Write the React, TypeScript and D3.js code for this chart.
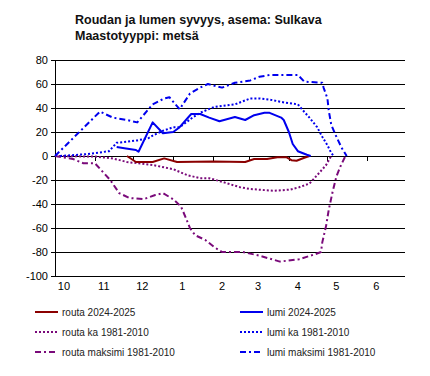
import React from "react";
import * as d3 from "d3";

const monthLabels = ["10", "11", "12", "1", "2", "3", "4", "5", "6"];
const yTicks = [80, 60, 40, 20, 0, -20, -40, -60, -80, -100];

const routa2425: [string, number][] = [
  ["2024-11-26", 0], ["2024-12-03", -5], ["2024-12-16", -5], ["2024-12-25", -2],
  ["2025-01-04", -5], ["2025-02-01", -4.5], ["2025-02-26", -5], ["2025-03-05", -2.5],
  ["2025-03-15", -2.5], ["2025-03-23", -1], ["2025-03-30", -1], ["2025-04-03", -3.5],
  ["2025-04-07", -4], ["2025-04-13", -1.5], ["2025-04-17", 0],
];
const routaKa: [string, number][] = [
  ["2024-10-01", 0], ["2024-11-01", -0.5], ["2024-11-15", -2], ["2024-11-26", -5],
  ["2024-12-16", -7.5], ["2025-01-01", -11], ["2025-01-12", -16], ["2025-01-22", -18.5],
  ["2025-01-29", -18.5], ["2025-02-08", -21.5], ["2025-02-22", -26], ["2025-03-02", -27.5],
  ["2025-03-20", -29], ["2025-04-02", -28], ["2025-04-09", -26], ["2025-04-17", -23],
  ["2025-04-23", -16], ["2025-04-30", -7.5], ["2025-05-04", 0],
];
const routaMax: [string, number][] = [
  ["2024-10-01", 0], ["2024-10-15", -2.5], ["2024-10-23", -6], ["2024-11-01", -6],
  ["2024-11-13", -20], ["2024-11-20", -31], ["2024-11-28", -35], ["2024-12-09", -36],
  ["2024-12-18", -32.5], ["2024-12-24", -31], ["2025-01-01", -36], ["2025-01-07", -42],
  ["2025-01-11", -52], ["2025-01-14", -60], ["2025-01-18", -66], ["2025-01-26", -70],
  ["2025-02-02", -76], ["2025-02-08", -80], ["2025-02-24", -80], ["2025-03-09", -83],
  ["2025-03-25", -88], ["2025-04-09", -86], ["2025-04-21", -82], ["2025-04-26", -80],
  ["2025-04-27", -72], ["2025-04-30", -58], ["2025-05-02", -45], ["2025-05-05", -30],
  ["2025-05-08", -17], ["2025-05-11", -9], ["2025-05-15", 0],
];
const lumi2425: [string, number][] = [
  ["2024-11-18", 7.5], ["2024-11-24", 6.5], ["2024-12-03", 5], ["2024-12-05", 3.5],
  ["2024-12-16", 28], ["2024-12-24", 19], ["2025-01-01", 20], ["2025-01-06", 24],
  ["2025-01-15", 35], ["2025-01-22", 35], ["2025-01-29", 32], ["2025-02-06", 29],
  ["2025-02-18", 32.5], ["2025-02-26", 30], ["2025-03-05", 34], ["2025-03-13", 36],
  ["2025-03-17", 36], ["2025-03-26", 32], ["2025-03-28", 30], ["2025-04-01", 20],
  ["2025-04-04", 10], ["2025-04-08", 4], ["2025-04-15", 1], ["2025-04-18", 0],
];
const lumiKa: [string, number][] = [
  ["2024-10-05", 0], ["2024-10-25", 1.5], ["2024-11-05", 3], ["2024-11-12", 4],
  ["2024-11-18", 11], ["2024-12-04", 13], ["2024-12-13", 15], ["2024-12-16", 17],
  ["2024-12-24", 21], ["2025-01-01", 24], ["2025-01-06", 24], ["2025-01-16", 32],
  ["2025-01-22", 36], ["2025-02-02", 41], ["2025-02-18", 43], ["2025-03-02", 48],
  ["2025-03-09", 48], ["2025-03-17", 47], ["2025-03-29", 44.5], ["2025-04-08", 43],
  ["2025-04-12", 38], ["2025-04-17", 32], ["2025-04-23", 24], ["2025-04-27", 16],
  ["2025-05-01", 9], ["2025-05-04", 2.5], ["2025-05-06", 0],
];
const lumiMax: [string, number][] = [
  ["2024-10-01", 0], ["2024-11-05", 37], ["2024-11-15", 32], ["2024-11-26", 30],
  ["2024-12-04", 28], ["2024-12-16", 43], ["2024-12-25", 48], ["2024-12-29", 49],
  ["2025-01-06", 39], ["2025-01-14", 52], ["2025-01-22", 57], ["2025-01-28", 60],
  ["2025-02-08", 57], ["2025-02-18", 61], ["2025-03-02", 63], ["2025-03-09", 66],
  ["2025-03-17", 67.5], ["2025-04-08", 67.5], ["2025-04-13", 62], ["2025-04-27", 61],
  ["2025-04-28", 57], ["2025-05-01", 48], ["2025-05-02", 38], ["2025-05-04", 26],
  ["2025-05-08", 16], ["2025-05-12", 7], ["2025-05-16", 0],
];

const seriesNames = [
  "routa 2024-2025", "lumi 2024-2025",
  "routa ka 1981-2010", "lumi ka 1981-2010",
  "routa maksimi 1981-2010", "lumi maksimi 1981-2010",
];

const RED = "#8b0000";
const BLUE = "#0000ee";
const PURPLE = "#7a0a7a";
const DOT = "2,2";
const DASHDOT = "6,3,2,3";

const parse = d3.timeParse("%Y-%m-%d");

export default function App() {
  const left = 55, right = 405, top = 60, bottom = 276;
  const x = d3.scaleTime()
    .domain([parse("2024-10-01")!, parse("2025-06-28")!])
    .range([left, left + 270 * 1.285]);
  const y = d3.scaleLinear().domain([-100, 80]).range([bottom, top]);
  const line = d3.line<[string, number]>()
    .x((d) => x(parse(d[0])!))
    .y((d) => y(d[1]));

  const months = d3.timeMonth.range(parse("2024-10-01")!, parse("2025-06-02")!);

  const series = [
    { data: routaKa, color: PURPLE, dash: DOT },
    { data: routaMax, color: PURPLE, dash: DASHDOT },
    { data: lumiKa, color: BLUE, dash: DOT },
    { data: lumiMax, color: BLUE, dash: DASHDOT },
    { data: routa2425, color: RED, dash: undefined },
    { data: lumi2425, color: BLUE, dash: undefined },
  ];
  const legend = [
    { name: seriesNames[0], color: RED, dash: undefined },
    { name: seriesNames[1], color: BLUE, dash: undefined },
    { name: seriesNames[2], color: PURPLE, dash: DOT },
    { name: seriesNames[3], color: BLUE, dash: DOT },
    { name: seriesNames[4], color: PURPLE, dash: DASHDOT },
    { name: seriesNames[5], color: BLUE, dash: DASHDOT },
  ];

  const font = "'Liberation Sans', Arial, sans-serif";

  return (
    <svg width={430} height={376} style={{ position: "absolute", left: 0, top: 0, background: "#fff" }} fontFamily={font}>
      <text x={75} y={23.5} fontSize={12.5} fontWeight="bold" fill="#111">Roudan ja lumen syvyys, asema: Sulkava</text>
      <text x={75} y={40} fontSize={12.5} fontWeight="bold" fill="#111">Maastotyyppi: metsä</text>

      {yTicks.map((t) => (
        <g key={t}>
          <line x1={left - 4} x2={right} y1={y(t) + 0.5} y2={y(t) + 0.5} stroke="#000" strokeWidth={1} />
          <text x={48} y={y(t)} dy="0.35em" textAnchor="end" fontSize={11} fill="#000">{t}</text>
        </g>
      ))}
      <line x1={left + 0.5} x2={left + 0.5} y1={top} y2={bottom + 0.5} stroke="#000" strokeWidth={1} />

      {months.map((m, i) => (
        <g key={i}>
          <line x1={Math.round(x(m)) + 0.5} x2={Math.round(x(m)) + 0.5} y1={y(0)} y2={y(0) + 5} stroke="#000" strokeWidth={1} />
          <text x={x(d3.timeDay.offset(m, 7))} y={290} textAnchor="middle" fontSize={11} fill="#000">{monthLabels[i]}</text>
        </g>
      ))}

      {series.map((s, i) => (
        <path key={i} d={line(s.data)!} fill="none" stroke={s.color} strokeWidth={2}
          strokeDasharray={s.dash} strokeLinejoin="round" />
      ))}

      {legend.map((l, i) => {
        const col = i % 2, row = Math.floor(i / 2);
        const lx = col === 0 ? 35 : 240;
        const ly = 312 + row * 20;
        return (
          <g key={i}>
            <line x1={lx} x2={lx + 23} y1={ly} y2={ly} stroke={l.color} strokeWidth={2} strokeDasharray={l.dash} />
            <text x={lx + 27} y={ly} dy="0.35em" fontSize={10} fill="#222">{l.name}</text>
          </g>
        );
      })}
    </svg>
  );
}
